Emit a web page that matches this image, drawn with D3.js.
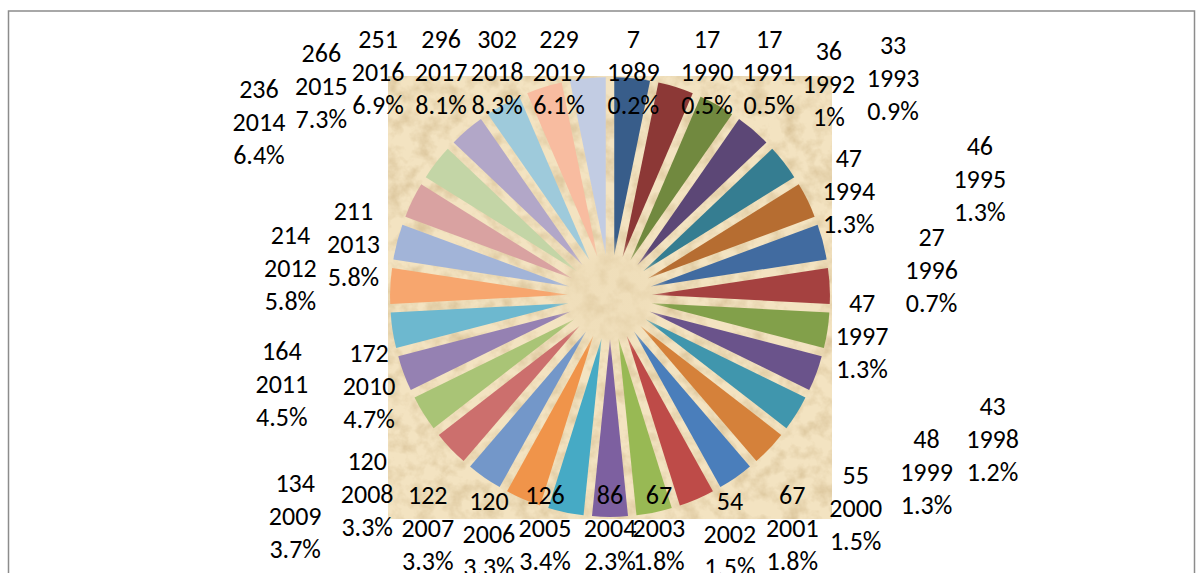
<!DOCTYPE html>
<html>
<head>
<meta charset="utf-8">
<script src="https://cdn.jsdelivr.net/npm/d3@7"></script>
<style>
  body { margin: 0; background: #fff; }
  svg { display: block; }
</style>
</head>
<body>
<script>
const w = 1202;
const h = 573;

// data
const years = [1989, 1990, 1991, 1992, 1993, 1994, 1995, 1996, 1997, 1998, 1999,
  2000, 2001, 2002, 2003, 2004, 2005, 2006, 2007, 2008, 2009, 2010, 2011, 2012,
  2013, 2014, 2015, 2016, 2017, 2018, 2019];
const counts = [7, 17, 17, 36, 33, 47, 46, 27, 47, 43, 48, 55, 67, 54, 67, 86,
  126, 120, 122, 120, 134, 172, 164, 214, 211, 236, 266, 251, 296, 302, 229];
const shares = ["0.2%", "0.5%", "0.5%", "1%", "0.9%", "1.3%", "1.3%", "0.7%",
  "1.3%", "1.2%", "1.3%", "1.5%", "1.8%", "1.5%", "1.8%", "2.3%", "3.4%", "3.3%",
  "3.3%", "3.3%", "3.7%", "4.7%", "4.5%", "5.8%", "5.8%", "6.4%", "7.3%", "6.9%",
  "8.1%", "8.3%", "6.1%"];

// slice colours (excel style, shade -> tint rows)
const colors = [
  "#385d8a", "#8c3836", "#71893f", "#5c4776", "#357d91", "#b66d31",
  "#416ba0", "#a54140", "#82a04a", "#6a538b", "#4096ad", "#d5813a",
  "#4a7ebb", "#be4b48", "#98b954", "#7d60a0", "#46aac5", "#f0944a",
  "#7397c9", "#cc6f6d", "#a9c476", "#9581b2", "#6db8cf", "#f7a66e",
  "#a2b4d8", "#d9a2a1", "#c3d5a6", "#b2a7c8", "#9ecadb", "#f8bca0",
  "#c2cce3"
];

// label layout: distance out along each slice, then a small vertical nudge
const labelDist = [230, 324, 328, 336, 358, 266, 382, 322, 255, 408, 373, 339,
  319, 304, 243, 240, 323, 307, 319, 335, 371, 257, 332, 320, 265, 391, 365,
  356, 348, 377, 504];
const labelNudge = [0, 0, 0, 12, 0, 11, -22, -11, 0, 0, -22, -20, 0, 6, 0, 0,
  0, 6, 0, -34, 23, 0, 37, -13, 13, -3, 12, 0, 0, 0, 0];

const cx = 610;
const cy = 297;
const radius = 178;
const explode = 42;
const lineH = 33;

const svg = d3.select("body").append("svg").attr("width", w).attr("height", h);
const defs = svg.append("defs");

// parchment texture
const paper = defs.append("filter").attr("id", "paper")
  .attr("x", 0).attr("y", 0).attr("width", 1).attr("height", 1)
  .attr("color-interpolation-filters", "sRGB");
paper.append("feTurbulence")
  .attr("type", "fractalNoise")
  .attr("baseFrequency", 0.06)
  .attr("numOctaves", 4)
  .attr("seed", 7)
  .attr("result", "noise");
paper.append("feColorMatrix")
  .attr("in", "noise")
  .attr("type", "matrix")
  .attr("values", "0 0 0 0 0.84  0 0 0 0 0.75  0 0 0 0 0.58  1.7 0 0 0 -0.68");

const glow = defs.append("radialGradient").attr("id", "glow");
glow.append("stop").attr("offset", "0%").attr("stop-color", "#e8d5ae").attr("stop-opacity", 0.3);
glow.append("stop").attr("offset", "65%").attr("stop-color", "#eedcb7").attr("stop-opacity", 0.6);
glow.append("stop").attr("offset", "100%").attr("stop-color", "#f1e0bc").attr("stop-opacity", 0);

// chart border
svg.append("rect")
  .attr("x", 8.5).attr("y", 11)
  .attr("width", 1186).attr("height", 620)
  .attr("fill", "none")
  .attr("stroke", "#8c8c8c")
  .attr("stroke-width", 1.5);

// plot area
const plot = { x: 388, y: 76, w: 444, h: 443 };
svg.append("rect")
  .attr("x", plot.x).attr("y", plot.y)
  .attr("width", plot.w).attr("height", plot.h)
  .attr("fill", "#f3e3c1");
svg.append("rect")
  .attr("x", plot.x).attr("y", plot.y)
  .attr("width", plot.w).attr("height", plot.h)
  .attr("fill", "#fff")
  .attr("filter", "url(#paper)");

const rows = years.map((y, i) => ({ year: y, count: counts[i], share: shares[i], i }));

// every slice gets the same angle in the original
const pie = d3.pie().value(() => 1).sort(null);
const arc = d3.arc().innerRadius(0).outerRadius(radius);
const arcs = pie(rows);

const mid = (d) => (d.startAngle + d.endAngle) / 2;

svg.append("g")
  .selectAll("path")
  .data(arcs)
  .join("path")
  .attr("transform", (d) => {
    const a = mid(d);
    return `translate(${cx + explode * Math.sin(a)},${cy - explode * Math.cos(a)})`;
  })
  .attr("fill", (d) => colors[d.index])
  .attr("d", arc);

svg.append("circle")
  .attr("cx", cx).attr("cy", cy).attr("r", 60)
  .attr("fill", "url(#glow)");

// data labels
const labels = svg.append("g")
  .attr("font-family", "Calibri, Carlito, Lato, sans-serif")
  .attr("font-size", 26)
  .attr("fill", "#000")
  .attr("text-anchor", "middle");

arcs.forEach((d) => {
  const a = mid(d);
  const r = labelDist[d.index];
  const x = cx + r * Math.sin(a);
  let y = cy - r * Math.cos(a);
  y = Math.max(cy - 225, Math.min(cy + 231, y)) + labelNudge[d.index];
  const t = labels.append("text").attr("x", x).attr("y", y);
  [d.data.count, d.data.year, d.data.share].forEach((s, k) => {
    t.append("tspan")
      .attr("x", x)
      .attr("y", y + (k - 1) * lineH)
      .attr("dy", "0.35em")
      .text(s);
  });
});
</script>
</body>
</html>
